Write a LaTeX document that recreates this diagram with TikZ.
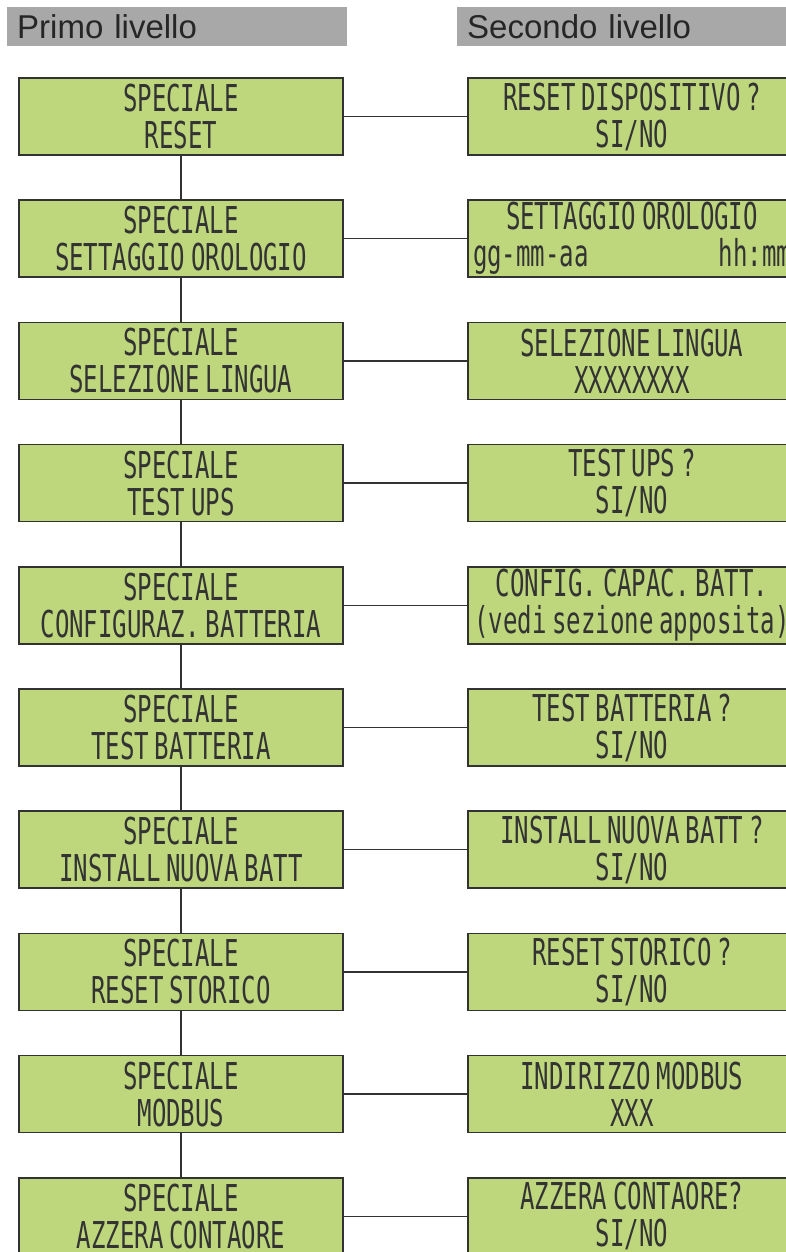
\documentclass[tikz,border=0pt]{standalone}
\usepackage{fontspec}
\setmainfont{Liberation Sans}
\newfontfamily\lcdfont[FakeStretch=0.65,WordSpace=0.4]{DejaVu Sans Mono}
\usetikzlibrary{positioning}

\definecolor{lcdgreen}{RGB}{190,215,125}
\definecolor{headgray}{RGB}{168,168,168}
\definecolor{framegray}{RGB}{50,50,50}

\tikzset{
  header/.style={fill=headgray, anchor=north west, minimum height=39pt,
    text width=320pt, align=left, inner xsep=10pt, inner ysep=0pt,
    text=black!85, font=\fontsize{33}{33}\selectfont},
  lcd/.style={draw=framegray, line width=1.5pt, fill=lcdgreen,
    minimum width=324pt, minimum height=77pt, inner sep=0pt, align=center,
    text=black!80, font=\lcdfont\fontsize{37}{37}\selectfont},
  lcdwide/.style={lcd, minimum width=328pt},
  link/.style={draw=framegray, line width=1.5pt}
}

\begin{document}
\begin{tikzpicture}[x=1pt,y=-1pt]
    \useasboundingbox (0,0) rectangle (786,1252);

    % intestazioni
    \node[header] (h1) at (7,7) {Primo livello};
    \node[header] (h2) at (457,7) {Secondo livello};

    % primo livello
    \node[lcd] (l1)  at (181,116.5)  {SPECIALE\\RESET};
    \node[lcd] (l2)  at (181,238.7)  {SPECIALE\\SETTAGGIO OROLOGIO};
    \node[lcd] (l3)  at (181,360.9)  {SPECIALE\\SELEZIONE LINGUA};
    \node[lcd] (l4)  at (181,483.1)  {SPECIALE\\TEST UPS};
    \node[lcd] (l5)  at (181,605.3)  {SPECIALE\\CONFIGURAZ. BATTERIA};
    \node[lcd] (l6)  at (181,727.5)  {SPECIALE\\TEST BATTERIA};
    \node[lcd] (l7)  at (181,849.7)  {SPECIALE\\INSTALL NUOVA BATT};
    \node[lcd] (l8)  at (181,971.9)  {SPECIALE\\RESET STORICO};
    \node[lcd] (l9)  at (181,1094.1) {SPECIALE\\MODBUS};
    \node[lcd] (l10) at (181,1216.3) {SPECIALE\\AZZERA CONTAORE};

    % secondo livello
    \node[lcdwide] (r1)  at (632,116.5)  {RESET DISPOSITIVO ?\\SI/NO};
    \node[lcdwide] (r2)  at (632,238.7)  {SETTAGGIO OROLOGIO\\\makebox[318pt]{gg-mm-aa\hfill hh:mm}};
    \node[lcdwide] (r3)  at (632,360.9)  {SELEZIONE LINGUA\\XXXXXXXX};
    \node[lcdwide] (r4)  at (632,483.1)  {TEST UPS ?\\SI/NO};
    \node[lcdwide] (r5)  at (632,605.3)  {CONFIG. CAPAC. BATT.\\(vedi sezione apposita)};
    \node[lcdwide] (r6)  at (632,727.5)  {TEST BATTERIA ?\\SI/NO};
    \node[lcdwide] (r7)  at (632,849.7)  {INSTALL NUOVA BATT ?\\SI/NO};
    \node[lcdwide] (r8)  at (632,971.9)  {RESET STORICO ?\\SI/NO};
    \node[lcdwide] (r9)  at (632,1094.1) {INDIRIZZO MODBUS\\XXX};
    \node[lcdwide] (r10) at (632,1216.3) {AZZERA CONTAORE?\\SI/NO};

    % collegamenti
    \foreach \i [count=\j from 2] in {1,...,9}
        \draw[link] (l\i) -- (l\j);
    \foreach \i in {1,...,10}
        \draw[link] (l\i) -- (r\i);
\end{tikzpicture}
\end{document}
